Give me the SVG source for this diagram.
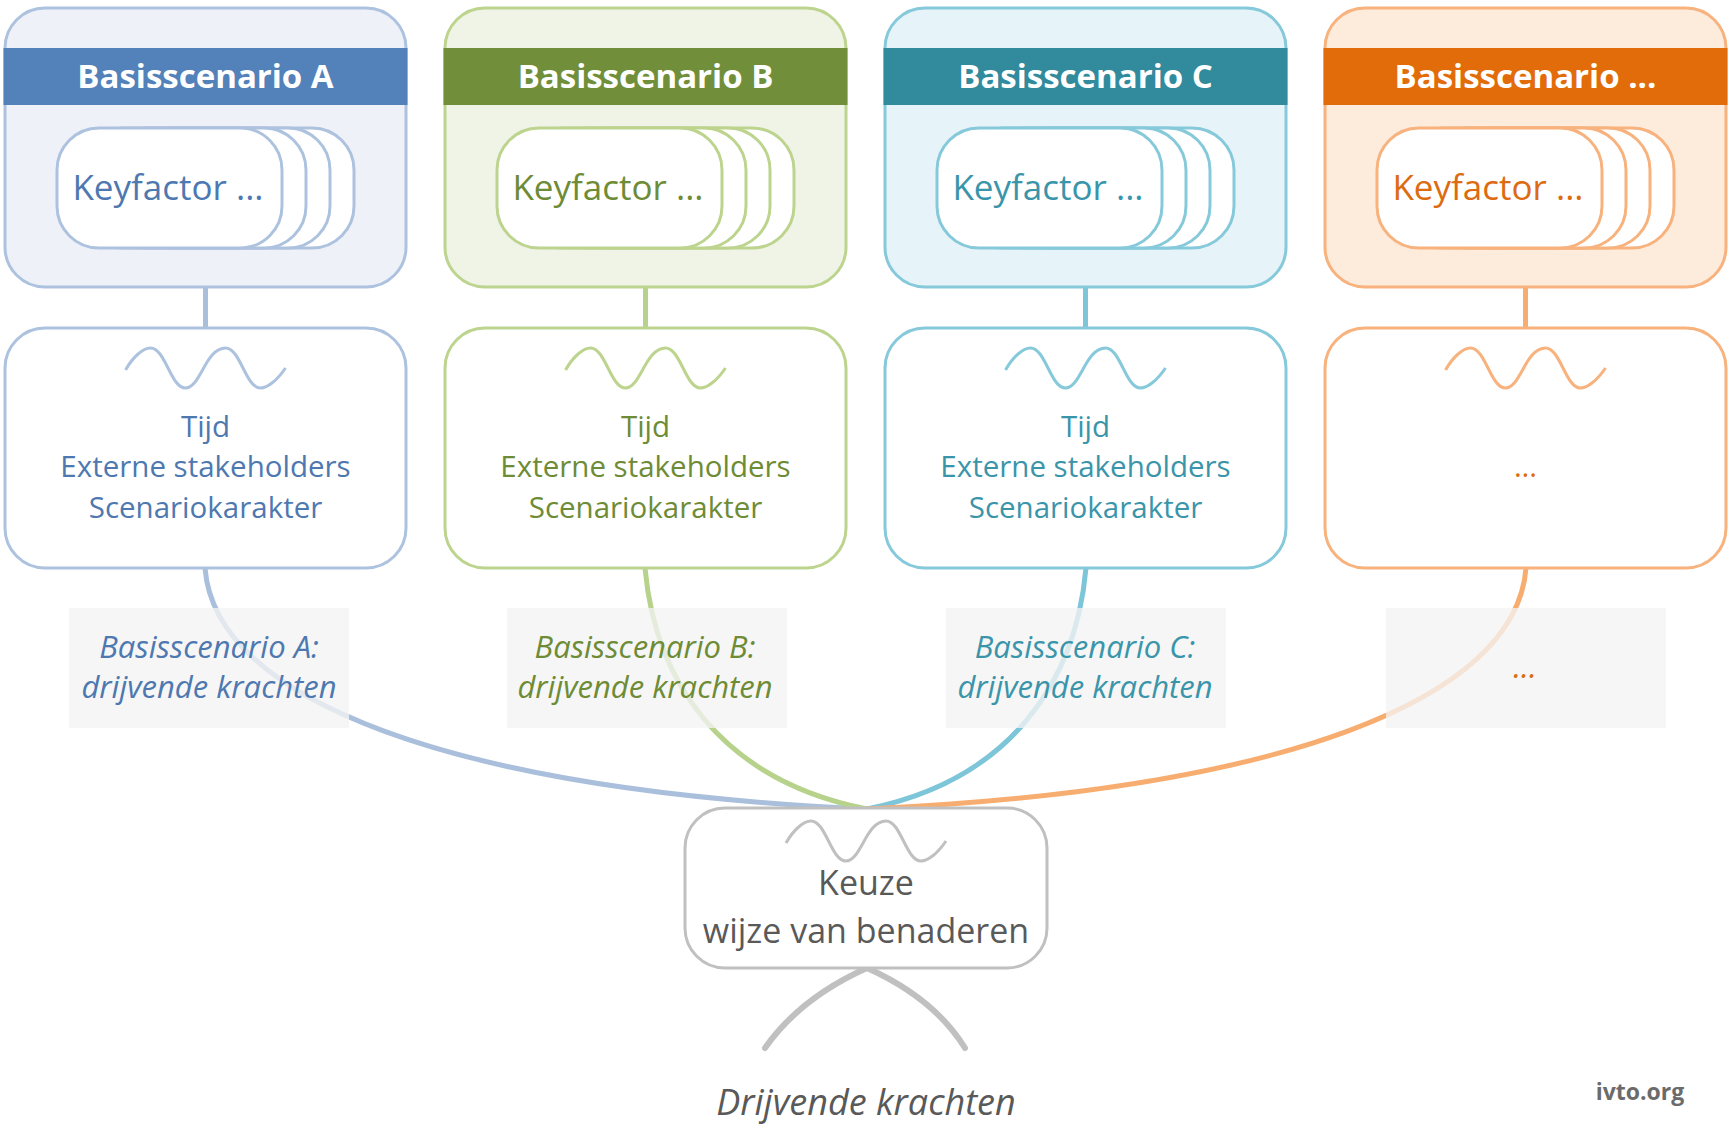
<svg xmlns="http://www.w3.org/2000/svg" width="1732" height="1132" viewBox="0 0 1732 1132">
<style>
text{font-family:"Open Sans","Liberation Sans",sans-serif;text-anchor:middle}
.hdr{font-weight:bold;font-size:33px;fill:#fff}
.kf{font-size:35px}
.mid{font-size:29.5px}
.lbl{font-size:31px;font-style:italic}
.panel{stroke-width:3}
.box{fill:#fff;stroke-width:3}
.wave{fill:none;stroke-width:3}
.con{fill:none;stroke-width:5;stroke-linecap:round}
.lblbox{fill:#f4f4f4;fill-opacity:0.78}
.a .panel{fill:#eef2f8;stroke:#adc2de}.a .box,.a .wave{stroke:#adc2de}.a .band{fill:#5381b9}.a .t{fill:#4e78b0}
.b .panel{fill:#eff4e6;stroke:#bdd48f}.b .box,.b .wave{stroke:#bdd48f}.b .band{fill:#718f3a}.b .t{fill:#6e8b35}
.c .panel{fill:#e6f4f9;stroke:#86c9da}.c .box,.c .wave{stroke:#86c9da}.c .band{fill:#328a9d}.c .t{fill:#3a95aa}
.d .panel{fill:#fdebdc;stroke:#f7b27d}.d .box,.d .wave{stroke:#f7b27d}.d .band{fill:#e26b0a}.d .t{fill:#dd6b10}
</style>
<defs>
<path id="wv" d="M-80,22 C-72,8 -62,0 -55,0 C-40,0 -35,40 -20,40 C-5,40 0,0 20,0 C35,0 40,40 55,40 C62,40 72,32 80,20"/>
<g id="kstack">
<rect x="72" y="120" width="225" height="120" rx="42"/>
<rect x="48" y="120" width="225" height="120" rx="42"/>
<rect x="24" y="120" width="225" height="120" rx="42"/>
<rect x="0" y="120" width="225" height="120" rx="42"/>
</g>
</defs>
<rect width="1732" height="1132" fill="#fff"/>
<g id="connectors">
<path class="con" d="M205.5,287 V328" stroke="#a9bfdc"/>
<path class="con" d="M645.5,287 V328" stroke="#b7d28b"/>
<path class="con" d="M1085.5,287 V328" stroke="#7dc5d8"/>
<path class="con" d="M1525.5,287 V328" stroke="#f8ad70"/>
<path class="con" d="M205,568 C215,700 450,790 867,809" stroke="#a9bfdc"/>
<path class="con" d="M645,568 C655,680 720,780 867,809" stroke="#b7d28b"/>
<path class="con" d="M1086,568 C1076,680 1012,780 867,809" stroke="#7dc5d8"/>
<path class="con" d="M1526,568 C1516,700 1282,790 867,809" stroke="#f8ad70"/>
<path d="M867,968 Q800,998 765,1048" fill="none" stroke="#c0c0c0" stroke-width="6" stroke-linecap="round"/>
<path d="M867,968 Q934,998 965,1048" fill="none" stroke="#c0c0c0" stroke-width="6" stroke-linecap="round"/>
</g>
<g id="scenario-a" class="a">
<rect class="panel" x="5" y="8" width="401" height="279" rx="40"/>
<rect class="band" x="3.5" y="48" width="404" height="57"/>
<text class="hdr" x="205.5" y="88">Basisscenario A</text>
<use href="#kstack" x="57" y="8" class="box" fill="#fff" stroke="#adc2de"/>
<text class="kf t" x="168" y="200">Keyfactor ...</text>
</g>
<g id="factors-a" class="a">
<rect class="box" x="5" y="328" width="401" height="240" rx="40"/>
<use href="#wv" x="205.5" y="348" class="wave" fill="none" stroke="#adc2de"/>
<text class="mid t" x="205.5" y="437">Tijd</text>
<text class="mid t" x="205.5" y="477">Externe stakeholders</text>
<text class="mid t" x="205.5" y="518">Scenariokarakter</text>
</g>
<g id="label-a" class="a">
<rect class="lblbox" x="69" y="608" width="280" height="120"/>
<text class="lbl t" x="209" y="658">Basisscenario A:</text>
<text class="lbl t" x="209" y="698">drijvende krachten</text>
</g>
<g id="scenario-b" class="b">
<rect class="panel" x="445" y="8" width="401" height="279" rx="40"/>
<rect class="band" x="443.5" y="48" width="404" height="57"/>
<text class="hdr" x="645.5" y="88">Basisscenario B</text>
<use href="#kstack" x="497" y="8" class="box" fill="#fff" stroke="#bdd48f"/>
<text class="kf t" x="608" y="200">Keyfactor ...</text>
</g>
<g id="factors-b" class="b">
<rect class="box" x="445" y="328" width="401" height="240" rx="40"/>
<use href="#wv" x="645.5" y="348" class="wave" fill="none" stroke="#bdd48f"/>
<text class="mid t" x="645.5" y="437">Tijd</text>
<text class="mid t" x="645.5" y="477">Externe stakeholders</text>
<text class="mid t" x="645.5" y="518">Scenariokarakter</text>
</g>
<g id="label-b" class="b">
<rect class="lblbox" x="507" y="608" width="280" height="120"/>
<text class="lbl t" x="645" y="658">Basisscenario B:</text>
<text class="lbl t" x="645" y="698">drijvende krachten</text>
</g>
<g id="scenario-c" class="c">
<rect class="panel" x="885" y="8" width="401" height="279" rx="40"/>
<rect class="band" x="883.5" y="48" width="404" height="57"/>
<text class="hdr" x="1085.5" y="88">Basisscenario C</text>
<use href="#kstack" x="937" y="8" class="box" fill="#fff" stroke="#86c9da"/>
<text class="kf t" x="1048" y="200">Keyfactor ...</text>
</g>
<g id="factors-c" class="c">
<rect class="box" x="885" y="328" width="401" height="240" rx="40"/>
<use href="#wv" x="1085.5" y="348" class="wave" fill="none" stroke="#86c9da"/>
<text class="mid t" x="1085.5" y="437">Tijd</text>
<text class="mid t" x="1085.5" y="477">Externe stakeholders</text>
<text class="mid t" x="1085.5" y="518">Scenariokarakter</text>
</g>
<g id="label-c" class="c">
<rect class="lblbox" x="946" y="608" width="280" height="120"/>
<text class="lbl t" x="1085" y="658">Basisscenario C:</text>
<text class="lbl t" x="1085" y="698">drijvende krachten</text>
</g>
<g id="scenario-d" class="d">
<rect class="panel" x="1325" y="8" width="401" height="279" rx="40"/>
<rect class="band" x="1323.5" y="48" width="404" height="57"/>
<text class="hdr" x="1525.5" y="88">Basisscenario ...</text>
<use href="#kstack" x="1377" y="8" class="box" fill="#fff" stroke="#f7b27d"/>
<text class="kf t" x="1488" y="200">Keyfactor ...</text>
</g>
<g id="factors-d" class="d">
<rect class="box" x="1325" y="328" width="401" height="240" rx="40"/>
<use href="#wv" x="1525.5" y="348" class="wave" fill="none" stroke="#f7b27d"/>
<text class="mid t" x="1525.5" y="477">...</text>
</g>
<g id="label-d" class="d">
<rect class="lblbox" x="1386" y="608" width="280" height="120"/>
<text class="lbl t" x="1525" y="678">...</text>
</g>
<g id="keuze">
<rect x="685" y="808" width="362" height="160" rx="40" fill="#fff" stroke="#c0c0c0" stroke-width="3"/>
<use href="#wv" x="866" y="821" fill="none" stroke="#c0c0c0" stroke-width="3"/>
<text x="866" y="895" font-size="34" fill="#595959">Keuze</text>
<text x="866" y="943" font-size="34" fill="#595959">wijze van benaderen</text>
</g>
<g id="drijvende">
<text x="866" y="1115" font-size="36" font-style="italic" fill="#595959">Drijvende krachten</text>
</g>
<g id="credit">
<text x="1640" y="1100" font-size="23" font-weight="bold" fill="#6b6b6b">ivto.org</text>
</g>
</svg>
